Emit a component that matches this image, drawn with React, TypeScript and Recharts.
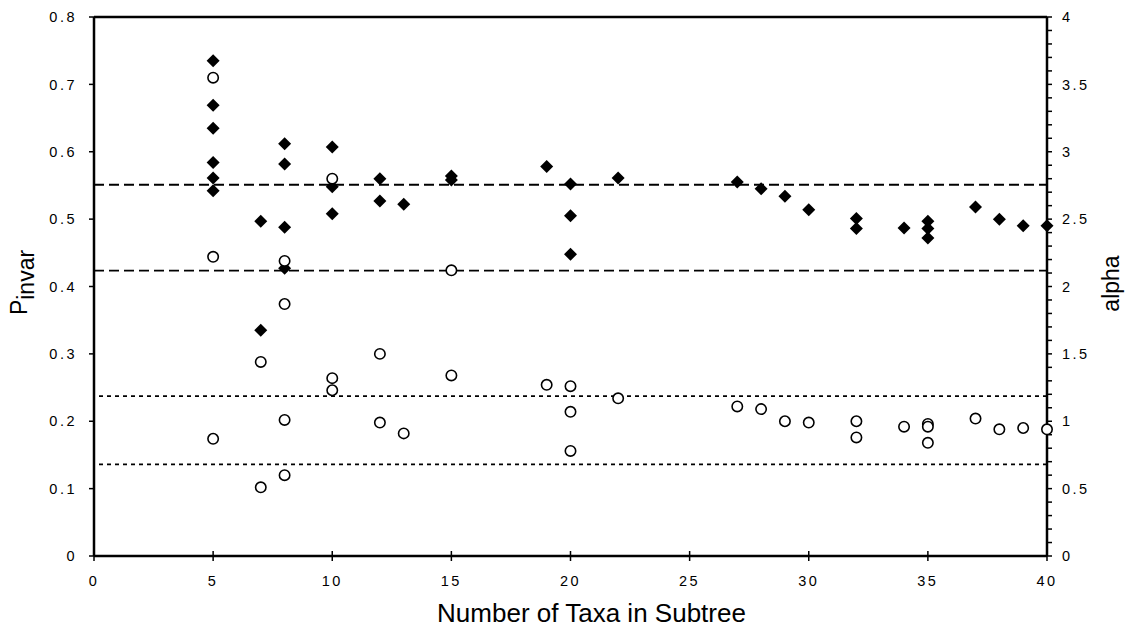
import React from "react";
import { ScatterChart, Scatter, XAxis, YAxis, ReferenceLine } from "recharts";

// x categories: number of taxa in the subtree
const taxaTicks = [0, 5, 10, 15, 20, 25, 30, 35, 40];

// left axis: Pinvar (filled diamonds)
const pinvarTicks = [0, 0.1, 0.2, 0.3, 0.4, 0.5, 0.6, 0.7, 0.8];
const pinvarTaxa = [
  5, 5, 5, 5, 5, 5, 7, 7, 8, 8, 8, 8, 10, 10, 10, 12, 12, 13, 15, 15, 19, 20,
  20, 20, 22, 27, 28, 29, 30, 32, 32, 34, 35, 35, 35, 37, 38, 39, 40,
];
const pinvarValues = [
  0.735, 0.669, 0.635, 0.584, 0.561, 0.542, 0.497, 0.335, 0.612, 0.582, 0.488,
  0.427, 0.607, 0.548, 0.508, 0.56, 0.527, 0.522, 0.564, 0.558, 0.578, 0.552,
  0.505, 0.448, 0.561, 0.555, 0.545, 0.534, 0.514, 0.501, 0.486, 0.487, 0.497,
  0.486, 0.472, 0.518, 0.5, 0.49, 0.49,
];

// right axis: alpha (open circles)
const alphaTicks = [
  0, 0.1, 0.2, 0.3, 0.4, 0.5, 0.6, 0.7, 0.8, 0.9, 1, 1.1, 1.2, 1.3, 1.4, 1.5,
  1.6, 1.7, 1.8, 1.9, 2, 2.1, 2.2, 2.3, 2.4, 2.5, 2.6, 2.7, 2.8, 2.9, 3, 3.1,
  3.2, 3.3, 3.4, 3.5, 3.6, 3.7, 3.8, 3.9, 4,
];
const alphaTaxa = [
  5, 5, 5, 7, 7, 8, 8, 8, 8, 10, 10, 10, 12, 12, 13, 15, 15, 19, 20, 20, 20, 22,
  27, 28, 29, 30, 32, 32, 34, 35, 35, 35, 37, 38, 39, 40,
];
const alphaValues = [
  3.55, 2.22, 0.87, 1.44, 0.51, 2.19, 1.87, 1.01, 0.6, 2.8, 1.32, 1.23, 1.5,
  0.99, 0.91, 2.12, 1.34, 1.27, 1.26, 1.07, 0.78, 1.17, 1.11, 1.09, 1.0, 0.99,
  1.0, 0.88, 0.96, 0.98, 0.96, 0.84, 1.02, 0.94, 0.95, 0.94,
];

// reference bands
const pinvarBounds = [0.551, 0.4235];
const alphaBounds = [1.187, 0.68];

const pinvarData = pinvarTaxa.map((x, i) => ({ x, y: pinvarValues[i] }));
const alphaData = alphaTaxa.map((x, i) => ({ x, y: alphaValues[i] }));

const FONT = "'Liberation Sans', Arial, Helvetica, sans-serif";

const Diamond = (props: any) => {
  const { cx, cy } = props;
  const r = 6.5;
  return (
    <path
      d={`M${cx},${cy - r}L${cx + r},${cy}L${cx},${cy + r}L${cx - r},${cy}Z`}
      fill="#000"
    />
  );
};

const OpenCircle = (props: any) => {
  const { cx, cy } = props;
  return <circle cx={cx} cy={cy} r={5.2} fill="#fff" stroke="#000" strokeWidth={1.6} />;
};

const XTick = (props: any) => {
  const { x, y, payload } = props;
  const axisY = y - 4;
  return (
    <g>
      <line x1={x} x2={x} y1={axisY - 5} y2={axisY + 5} stroke="#000" strokeWidth={1.5} />
      <text
        x={x}
        y={axisY + 30}
        textAnchor="middle"
        fontFamily={FONT}
        fontSize={14.5}
        letterSpacing={2.5}
        fill="#000"
      >
        {payload.value}
      </text>
    </g>
  );
};

const PinvarLabel = (props: any) => {
  const vb = props.viewBox;
  const cy = vb.y + vb.height / 2 - 4;
  return (
    <text
      transform={`translate(27, ${cy}) rotate(-90)`}
      textAnchor="middle"
      fontFamily={FONT}
      fontSize={23}
      fill="#000"
    >
      <tspan>P</tspan>
      <tspan dy={6.5}>invar</tspan>
    </text>
  );
};

const AlphaLabel = (props: any) => {
  const vb = props.viewBox;
  const cy = vb.y + vb.height / 2 - 3;
  return (
    <text
      transform={`translate(${vb.x + 64}, ${cy}) rotate(-90)`}
      textAnchor="middle"
      dy="0.35em"
      fontFamily={FONT}
      fontSize={23}
      fill="#000"
    >
      alpha
    </text>
  );
};

const XTitle = (props: any) => {
  const vb = props.viewBox;
  return (
    <text
      x={vb.x + vb.width / 2 + 21}
      y={622}
      textAnchor="middle"
      fontFamily={FONT}
      fontSize={26}
      fill="#000"
    >
      Number of Taxa in Subtree
    </text>
  );
};

const tickStyle = { fontFamily: FONT, fontSize: 14.5, fill: "#000", letterSpacing: 2.5 };

export default function App() {
  return (
    <div style={{ position: "absolute", left: 0, top: 0, background: "#fff" }}>
      <ScatterChart
        width={1128}
        height={627}
        margin={{ top: 17, right: 0, bottom: 0, left: 0 }}
      >
        <XAxis
          type="number"
          dataKey="x"
          domain={[0, 40]}
          ticks={taxaTicks}
          interval={0}
          height={71}
          tickSize={4}
          tickMargin={0}
          tickLine={false}
          tick={<XTick />}
          axisLine={{ stroke: "#000", strokeWidth: 2.5 }}
          label={{ content: <XTitle /> }}
        />
        <YAxis
          yAxisId="left"
          type="number"
          dataKey="y"
          domain={[0, 0.8]}
          ticks={pinvarTicks}
          interval={0}
          width={94}
          tickSize={5}
          tickMargin={12}
          tick={tickStyle}
          tickFormatter={(v: number) => (v === 0 ? "0" : v.toFixed(1))}
          tickLine={{ stroke: "#000", strokeWidth: 1.5 }}
          axisLine={{ stroke: "#000", strokeWidth: 2.5 }}
          label={{ content: <PinvarLabel /> }}
        />
        <YAxis
          yAxisId="right"
          orientation="right"
          type="number"
          dataKey="y"
          domain={[0, 4]}
          ticks={alphaTicks}
          interval={0}
          width={81}
          tickSize={5}
          tickMargin={10}
          tick={tickStyle}
          tickFormatter={(v: number) =>
            Math.abs(v * 2 - Math.round(v * 2)) < 1e-6 ? String(v) : ""
          }
          tickLine={{ stroke: "#000", strokeWidth: 1.5 }}
          axisLine={{ stroke: "#000", strokeWidth: 2.5 }}
          label={{ content: <AlphaLabel /> }}
        />
        <ReferenceLine yAxisId="left" y={0.8} stroke="#000" strokeWidth={2.5} />
        {pinvarBounds.map((v) => (
          <ReferenceLine
            key={`p${v}`}
            yAxisId="left"
            y={v}
            stroke="#000"
            strokeWidth={1.8}
            strokeDasharray="10 5"
          />
        ))}
        {alphaBounds.map((v) => (
          <ReferenceLine
            key={`a${v}`}
            yAxisId="right"
            y={v}
            stroke="#000"
            strokeWidth={1.8}
            strokeDasharray="4 4"
          />
        ))}
        <Scatter
          yAxisId="left"
          data={pinvarData}
          shape={<Diamond />}
          isAnimationActive={false}
        />
        <Scatter
          yAxisId="right"
          data={alphaData}
          shape={<OpenCircle />}
          isAnimationActive={false}
        />
      </ScatterChart>
    </div>
  );
}
